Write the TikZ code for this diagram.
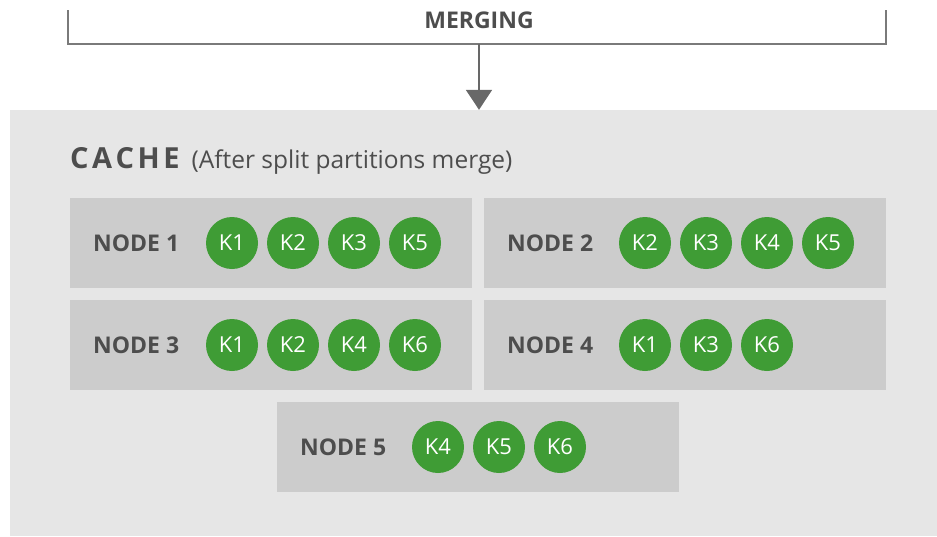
\documentclass[tikz,border=0pt]{standalone}
\usepackage{fontspec}
\setmainfont{Open Sans}
\usetikzlibrary{arrows.meta}
\definecolor{bg}{HTML}{E6E6E6}
\definecolor{boxc}{HTML}{CCCCCC}
\definecolor{kgreen}{HTML}{3F9C35}
\definecolor{txt}{HTML}{4D4D4D}
\definecolor{linec}{HTML}{7A7A7A}
\tikzset{
  nodebox/.style={fill=boxc, minimum width=402pt, minimum height=90pt, inner sep=0pt},
  key/.style={circle, fill=kgreen, minimum size=52pt, inner sep=0pt, text=white, font=\fontsize{22}{26}\selectfont},
  nlabel/.style={anchor=west, text=txt, font=\fontsize{23}{27}\selectfont\bfseries, inner sep=0pt},
}
\begin{document}
\begin{tikzpicture}[x=1pt,y=-1pt]
\useasboundingbox (0,0) rectangle (937,536);
\fill[white] (0,0) rectangle (937,536);
% cache background
\node[fill=bg, minimum width=927pt, minimum height=426pt, inner sep=0pt] (cache) at (473.5,323) {};
% merging bracket
\coordinate (bl) at (68,10);
\coordinate (br) at (886,10);
\coordinate (m) at (479,44);
\draw[linec, line width=2pt] (bl) |- (m) -| (br);
\node[text=txt, font=\fontsize{23}{27}\selectfont\bfseries, inner sep=0pt] (merging) at (479,20) {MERGING};
\draw[linec!85!black, line width=2pt, -{Triangle[length=20pt,width=26pt]}] (m) -- (m |- cache.north);
% title
\node[anchor=base west, inner sep=0pt, text=txt] (title) at (70,168)
  {\fontsize{29}{32}\selectfont\bfseries C\hspace{3.5pt}A\hspace{3.5pt}C\hspace{3.5pt}H\hspace{3.5pt}E\hspace{12pt}\fontsize{24.5}{28}\mdseries (After split partitions merge)};
% node boxes
\node[nodebox] (n1) at (271,243) {};
\node[nodebox] (n2) at (685,243) {};
\node[nodebox] (n3) at (271,345) {};
\node[nodebox] (n4) at (685,345) {};
\node[nodebox] (n5) at (478,447) {};
% labels
\node[nlabel] (l1) at (93,243) {NODE 1};
\node[nlabel] (l2) at (507,243) {NODE 2};
\node[nlabel] (l3) at (93,345) {NODE 3};
\node[nlabel] (l4) at (507,345) {NODE 4};
\node[nlabel] (l5) at (300,447) {NODE 5};
% keys
\node[key] (n1k1) at (232,243) {K1};
\node[key] (n1k2) at (293,243) {K2};
\node[key] (n1k3) at (354,243) {K3};
\node[key] (n1k5) at (415,243) {K5};
\node[key] (n2k2) at (645,243) {K2};
\node[key] (n2k3) at (706,243) {K3};
\node[key] (n2k4) at (767,243) {K4};
\node[key] (n2k5) at (828,243) {K5};
\node[key] (n3k1) at (232,345) {K1};
\node[key] (n3k2) at (293,345) {K2};
\node[key] (n3k4) at (354,345) {K4};
\node[key] (n3k6) at (415,345) {K6};
\node[key] (n4k1) at (645,345) {K1};
\node[key] (n4k3) at (706,345) {K3};
\node[key] (n4k6) at (767,345) {K6};
\node[key] (n5k4) at (438,447) {K4};
\node[key] (n5k5) at (499,447) {K5};
\node[key] (n5k6) at (560,447) {K6};
\end{tikzpicture}
\end{document}
